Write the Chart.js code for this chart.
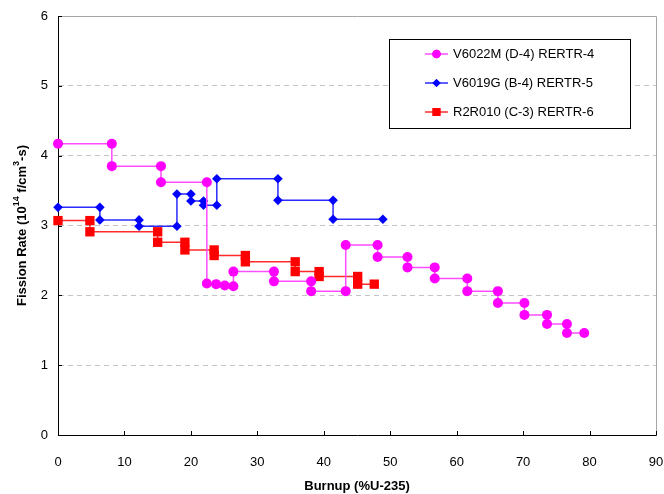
<!DOCTYPE html>
<html>
<head>
<meta charset="utf-8">
<title>Fission Rate vs Burnup</title>
<script src="https://cdn.jsdelivr.net/npm/chart.js@4.4.1/dist/chart.umd.min.js"></script>
<style>
  html, body { margin: 0; padding: 0; background: #fff; }
  #wrap { width: 664px; height: 494px; }
</style>
</head>
<body>
<div id="wrap"><canvas id="c" width="664" height="494"></canvas></div>
<script>
// V6022M (D-4) RERTR-4
const burnupD4 = [0, 8.1, 8.1, 15.5, 15.5, 22.4, 22.4, 23.8, 25.1, 26.4, 26.4, 32.5, 32.5, 38.1, 38.1, 43.3, 43.3, 48.1, 48.1, 52.6, 52.6, 56.7, 56.7, 61.6, 61.6, 66.2, 66.2, 70.2, 70.2, 73.6, 73.6, 76.6, 76.6, 79.2];
const rateD4   = [4.17, 4.17, 3.85, 3.85, 3.62, 3.62, 2.17, 2.16, 2.14, 2.13, 2.34, 2.34, 2.20, 2.20, 2.06, 2.06, 2.72, 2.72, 2.55, 2.55, 2.40, 2.40, 2.24, 2.24, 2.06, 2.06, 1.89, 1.89, 1.72, 1.72, 1.59, 1.59, 1.46, 1.46];

// V6019G (B-4) RERTR-5
const burnupB4 = [0, 6.3, 6.3, 12.2, 12.2, 17.9, 17.9, 20.0, 20.0, 21.9, 21.9, 23.9, 23.9, 33.1, 33.1, 41.4, 41.4, 48.9];
const rateB4   = [3.26, 3.26, 3.08, 3.08, 2.99, 2.99, 3.45, 3.45, 3.35, 3.35, 3.29, 3.29, 3.67, 3.67, 3.36, 3.36, 3.09, 3.09];

// R2R010 (C-3) RERTR-6
const burnupC3 = [0, 4.8, 4.8, 15.0, 15.0, 19.1, 19.1, 23.5, 23.5, 28.2, 28.2, 35.7, 35.7, 39.3, 39.3, 45.1, 45.1, 47.6];
const rateC3   = [3.07, 3.07, 2.91, 2.91, 2.76, 2.76, 2.65, 2.65, 2.57, 2.57, 2.48, 2.48, 2.34, 2.34, 2.27, 2.27, 2.16, 2.16];

const seriesLabels = ['V6022M (D-4) RERTR-4', 'V6019G (B-4) RERTR-5', 'R2R010 (C-3) RERTR-6'];
const xTicks = [0, 10, 20, 30, 40, 50, 60, 70, 80, 90];
const yTicks = [0, 1, 2, 3, 4, 5, 6];

const FONT = "'Liberation Sans', Arial, sans-serif";

function toPoints(xs, ys) {
  return xs.map((x, i) => ({ x: x, y: ys[i] }));
}

const styles = [
  { line: '#ff4dff', fill: '#ff00ff', shape: 'circle', r: 5 },
  { line: '#2a2aff', fill: '#0000ff', shape: 'rectRot', r: 4.8 },
  { line: '#ff2a2a', fill: '#ff0000', shape: 'rect', r: 6.6 }
];

const seriesData = [
  toPoints(burnupD4, rateD4),
  toPoints(burnupB4, rateB4),
  toPoints(burnupC3, rateC3)
];

const datasets = seriesData.map((pts, i) => ({
  label: seriesLabels[i],
  data: pts,
  showLine: true,
  tension: 0,
  borderColor: styles[i].line,
  borderWidth: 1.5,
  pointStyle: styles[i].shape,
  pointRadius: styles[i].r,
  pointBackgroundColor: styles[i].fill,
  pointBorderColor: styles[i].fill,
  pointBorderWidth: 0,
  clip: false
}));

// frame, inward ticks, axis titles and the boxed legend
const decorations = {
  id: 'decorations',
  beforeDatasetsDraw(chart) {
    const ctx = chart.ctx;
    const a = chart.chartArea;
    const xs = chart.scales.x, ys = chart.scales.y;
    ctx.save();
    // light frame on top and right
    ctx.strokeStyle = '#a6a6a6';
    ctx.lineWidth = 1;
    ctx.beginPath();
    ctx.moveTo(Math.round(a.left) + 0.5, Math.round(a.top) + 0.5);
    ctx.lineTo(Math.round(a.right) + 0.5, Math.round(a.top) + 0.5);
    ctx.lineTo(Math.round(a.right) + 0.5, Math.round(a.bottom) + 0.5);
    ctx.stroke();
    // inward tick marks
    ctx.strokeStyle = '#000';
    ctx.beginPath();
    xTicks.forEach(v => {
      const px = Math.round(xs.getPixelForValue(v)) + 0.5;
      ctx.moveTo(px, a.bottom);
      ctx.lineTo(px, a.bottom - 4);
    });
    yTicks.forEach(v => {
      const py = Math.round(ys.getPixelForValue(v)) + 0.5;
      ctx.moveTo(a.left, py);
      ctx.lineTo(a.left + 4, py);
    });
    ctx.stroke();
    ctx.restore();
  },
  afterDraw(chart) {
    const ctx = chart.ctx;
    const a = chart.chartArea;
    ctx.save();
    ctx.fillStyle = '#000';

    // x title
    ctx.font = 'bold 13px ' + FONT;
    ctx.textAlign = 'center';
    ctx.textBaseline = 'middle';
    ctx.fillText('Burnup (%U-235)', (a.left + a.right) / 2, 486);

    // y title with superscripts, rotated
    const parts = [
      { t: 'Fission Rate (10', sup: false },
      { t: '14', sup: true },
      { t: ' f/cm', sup: false },
      { t: '3', sup: true },
      { t: '-s)', sup: false }
    ];
    const bigF = 'bold 13px ' + FONT, supF = 'bold 9px ' + FONT;
    let total = 0;
    parts.forEach(p => { ctx.font = p.sup ? supF : bigF; p.w = ctx.measureText(p.t).width; total += p.w; });
    ctx.translate(22, (a.top + a.bottom) / 2);
    ctx.rotate(-Math.PI / 2);
    ctx.textAlign = 'left';
    ctx.textBaseline = 'middle';
    let cx = -total / 2;
    parts.forEach(p => {
      ctx.font = p.sup ? supF : bigF;
      ctx.fillText(p.t, cx, p.sup ? -5 : 0);
      cx += p.w;
    });
    ctx.setTransform(1, 0, 0, 1, 0, 0);

    // legend box
    const bx = 389.5, by = 39.5, bw = 241, bh = 89;
    ctx.fillStyle = '#fff';
    ctx.fillRect(bx, by, bw, bh);
    ctx.strokeStyle = '#000';
    ctx.lineWidth = 1;
    ctx.strokeRect(bx, by, bw, bh);
    const rows = [54, 83, 112];
    rows.forEach((ry, i) => {
      const st = styles[i];
      ctx.strokeStyle = st.line;
      ctx.lineWidth = 1.5;
      ctx.beginPath();
      ctx.moveTo(425, ry);
      ctx.lineTo(448, ry);
      ctx.stroke();
      ctx.fillStyle = st.fill;
      Chart.helpers.drawPoint(ctx, { pointStyle: st.shape, radius: st.r * 0.85, borderWidth: 0 }, 436.5, ry);
      ctx.fill();
      ctx.fillStyle = '#000';
      ctx.font = '13px ' + FONT;
      ctx.textAlign = 'left';
      ctx.textBaseline = 'middle';
      ctx.fillText(seriesLabels[i], 453, ry);
    });
    ctx.restore();
  }
};

new Chart(document.getElementById('c'), {
  type: 'scatter',
  data: { datasets: datasets },
  options: {
    responsive: false,
    animation: false,
    devicePixelRatio: 1,
    layout: { padding: { left: 0, top: 16, right: 8, bottom: 0 } },
    plugins: { legend: { display: false }, tooltip: { enabled: false } },
    scales: {
      x: {
        type: 'linear',
        min: 0, max: 90,
        afterBuildTicks(scale) { scale.ticks = xTicks.map(v => ({ value: v })); },
        afterFit(scale) { scale.height = 59; scale.paddingLeft = 0; scale.paddingRight = 0; },
        grid: { display: false, drawTicks: false },
        border: { display: true, color: '#000', width: 1 },
        ticks: { color: '#000', font: { family: FONT, size: 13 }, padding: 20, maxRotation: 0 }
      },
      y: {
        type: 'linear',
        min: 0, max: 6,
        afterBuildTicks(scale) { scale.ticks = yTicks.map(v => ({ value: v })); },
        afterFit(scale) { scale.width = 58; scale.paddingTop = 0; scale.paddingBottom = 0; },
        grid: {
          drawTicks: false,
          color: ctx => (ctx.tick && (ctx.tick.value === 0 || ctx.tick.value === 6)) ? 'rgba(0,0,0,0)' : '#c4c4c4',
          lineWidth: 1
        },
        border: { display: true, color: '#000', width: 1, dash: [5, 4] },
        ticks: { color: '#000', font: { family: FONT, size: 13 }, padding: 10 }
      }
    }
  },
  plugins: [decorations]
});
</script>
</body>
</html>
